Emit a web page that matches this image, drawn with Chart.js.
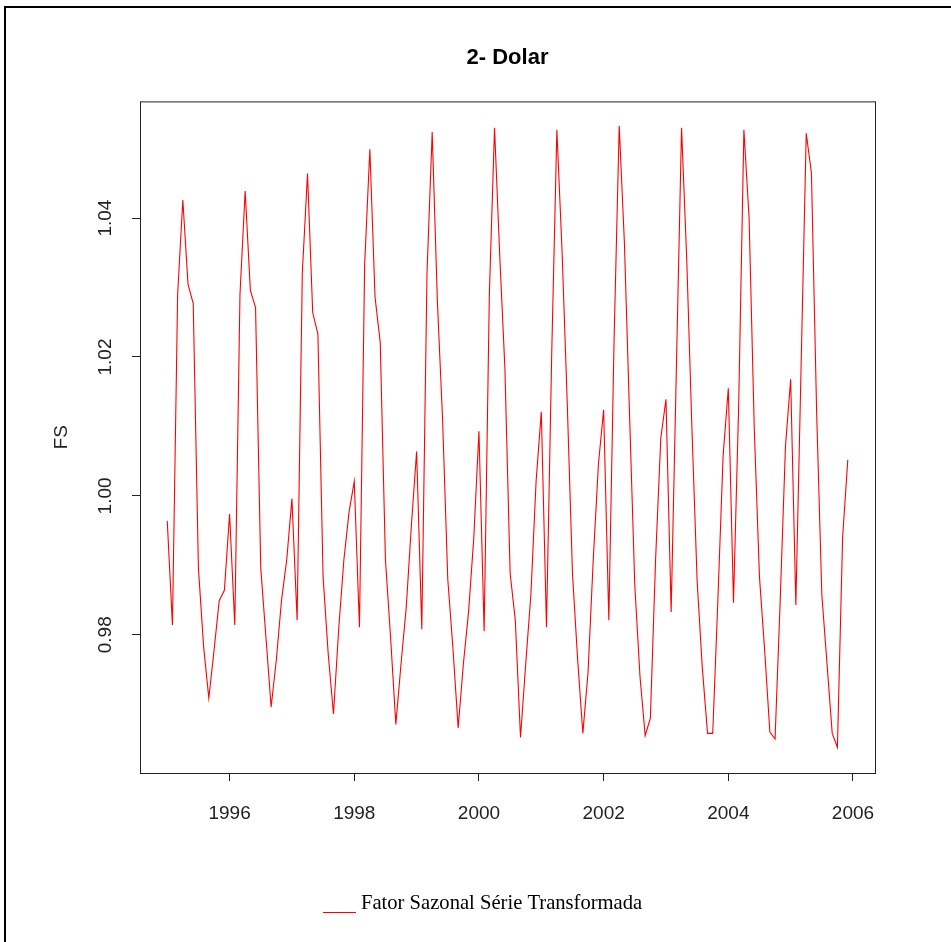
<!DOCTYPE html>
<html>
<head>
<meta charset="utf-8">
<script src="https://cdn.jsdelivr.net/npm/chart.js@4.4.1/dist/chart.umd.min.js"></script>
<style>
html, body { margin: 0; padding: 0; background: #fff; }
#myChart { display: block; }
</style>
</head>
<body>
<canvas id="myChart" width="951" height="942"></canvas>
<script>
/*------------------------------------------------------------------------------------------------*/
//datos: fator sazonal mensal (jan..dez) de cada ano
const anos = [1995, 1996, 1997, 1998, 1999, 2000, 2001, 2002, 2003, 2004, 2005];

const fs1995 = [0.9964, 0.9814, 1.0290, 1.0426, 1.0305, 1.0277, 0.9896, 0.9783, 0.9709, 0.9777, 0.9849, 0.9864];
const fs1996 = [0.9974, 0.9814, 1.0290, 1.0439, 1.0296, 1.0271, 0.9896, 0.9796, 0.9696, 0.9764, 0.9850, 0.9908];
const fs1997 = [0.9996, 0.9821, 1.0321, 1.0464, 1.0264, 1.0233, 0.9883, 0.9771, 0.9686, 0.9808, 0.9908, 0.9977];
const fs1998 = [1.0021, 0.9811, 1.0333, 1.0499, 1.0286, 1.0221, 0.9908, 0.9795, 0.9671, 0.9758, 0.9839, 0.9958];
const fs1999 = [1.0064, 0.9808, 1.0321, 1.0524, 1.0280, 1.0110, 0.9880, 0.9780, 0.9666, 0.9758, 0.9833, 0.9939];
const fs2000 = [1.0093, 0.9805, 1.0290, 1.0530, 1.0346, 1.0183, 0.9889, 0.9821, 0.9652, 0.9758, 0.9858, 1.0021];
const fs2001 = [1.0121, 0.9811, 1.0202, 1.0527, 1.0352, 1.0133, 0.9889, 0.9764, 0.9658, 0.9746, 0.9908, 1.0046];
const fs2002 = [1.0124, 0.9821, 1.0221, 1.0533, 1.0364, 1.0114, 0.9871, 0.9740, 0.9655, 0.9680, 0.9908, 1.0083];
const fs2003 = [1.0139, 0.9833, 1.0183, 1.0530, 1.0340, 1.0096, 0.9877, 0.9752, 0.9658, 0.9658, 0.9852, 1.0058];
const fs2004 = [1.0155, 0.9846, 1.0133, 1.0527, 1.0400, 1.0096, 0.9883, 0.9777, 0.9660, 0.9650, 0.9852, 1.0071];
const fs2005 = [1.0168, 0.9843, 1.0183, 1.0522, 1.0465, 1.0121, 0.9858, 0.9758, 0.9658, 0.9638, 0.9940, 1.0052];

const ticksX = [1996, 1998, 2000, 2002, 2004, 2006];
const ticksY = [0.98, 1.00, 1.02, 1.04];

const titulo = '2- Dolar';
const tituloY = 'FS';
const nomeSerie = 'Fator Sazonal S\u00e9rie Transformada';

/*------------------------------------------------------------------------------------------------*/
//pontos (ano + mes/12)
const todos = [fs1995, fs1996, fs1997, fs1998, fs1999, fs2000, fs2001, fs2002, fs2003, fs2004, fs2005];
const pontos = [];
for (let a = 0; a < anos.length; a++) {
    for (let m = 0; m < todos[a].length; m++) {
        pontos.push({ x: anos[a] + m / 12, y: todos[a][m] });
    }
}

/*------------------------------------------------------------------------------------------------*/
//caixa, moldura, rotulos do eixo y e legenda
const extras = {
    id: 'extras',
    afterDraw(chart) {
        const ctx = chart.ctx;
        const a = chart.chartArea;
        const ys = chart.scales.y;
        ctx.save();

        // moldura externa (so esquerda e topo)
        ctx.strokeStyle = '#000';
        ctx.lineWidth = 2;
        ctx.beginPath();
        ctx.moveTo(5, 942);
        ctx.lineTo(5, 7);
        ctx.lineTo(951, 7);
        ctx.stroke();

        // caixa do grafico
        ctx.lineWidth = 1;
        ctx.strokeStyle = '#222';
        ctx.strokeRect(a.left + 0.5, a.top + 0.5, a.right - a.left, a.bottom - a.top);

        // rotulos y girados
        ctx.fillStyle = '#222';
        ctx.font = '19px "Liberation Sans", Arial, sans-serif';
        ctx.textAlign = 'center';
        ctx.textBaseline = 'middle';
        ticksY.forEach(v => {
            const py = ys.getPixelForValue(v);
            ctx.save();
            ctx.translate(106, py);
            ctx.rotate(-Math.PI / 2);
            ctx.fillText(v.toFixed(2), 0, 0);
            ctx.restore();
        });

        // titulo do eixo y
        ctx.save();
        ctx.translate(62, (a.top + a.bottom) / 2);
        ctx.rotate(-Math.PI / 2);
        ctx.fillText(tituloY, 0, 0);
        ctx.restore();

        // legenda
        const cor = chart.data.datasets[0].borderColor;
        ctx.strokeStyle = cor;
        ctx.lineWidth = 1;
        ctx.beginPath();
        ctx.moveTo(323, 912.5);
        ctx.lineTo(356, 912.5);
        ctx.stroke();
        ctx.fillStyle = '#000';
        ctx.font = '20.6px "Liberation Serif", "Times New Roman", serif';
        ctx.textAlign = 'left';
        ctx.textBaseline = 'alphabetic';
        ctx.fillText(chart.data.datasets[0].label, 361, 909);

        ctx.restore();
    }
};

/*------------------------------------------------------------------------------------------------*/
//grafico
const ctx = document.getElementById('myChart');
const myChart = new Chart(ctx, {
    type: 'line',
    data: {
        datasets: [{
            label: nomeSerie,
            data: pontos,
            borderColor: 'rgb(255,0,0)',
            borderWidth: 1.1,
            pointRadius: 0,
            tension: 0,
            fill: false
        }]
    },
    options: {
        responsive: false,
        animation: false,
        devicePixelRatio: 1,
        layout: { padding: { left: 0, right: 76, top: 0, bottom: 0 } },
        plugins: {
            legend: { display: false },
            tooltip: { enabled: false },
            title: {
                display: true,
                text: titulo,
                fullSize: false,
                color: '#000',
                font: { family: '"Liberation Sans", Arial, sans-serif', size: 22, weight: 'bold', lineHeight: 1.2 },
                padding: { top: 45, bottom: 30 }
            }
        },
        scales: {
            x: {
                type: 'linear',
                min: 1994.563,
                max: 2006.353,
                afterBuildTicks: s => { s.ticks = ticksX.map(v => ({ value: v })); },
                afterFit: s => { s.height = 169; },
                border: { display: false },
                grid: { drawOnChartArea: false, drawTicks: true, tickLength: 8, color: '#222' },
                ticks: {
                    color: '#222',
                    padding: 21,
                    maxRotation: 0,
                    font: { family: '"Liberation Sans", Arial, sans-serif', size: 19 },
                    callback: v => String(v)
                }
            },
            y: {
                min: 0.9601,
                max: 1.0568,
                afterBuildTicks: s => { s.ticks = ticksY.map(v => ({ value: v })); },
                afterFit: s => { s.width = 140; },
                border: { display: false },
                grid: { drawOnChartArea: false, drawTicks: true, tickLength: 8, color: '#222' },
                ticks: { display: false }
            }
        }
    },
    plugins: [extras]
});
</script>
</body>
</html>
